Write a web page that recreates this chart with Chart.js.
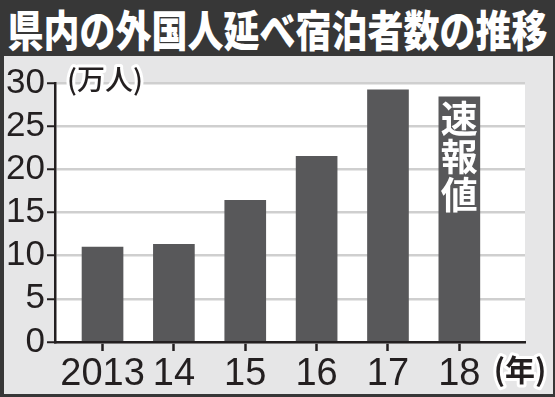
<!DOCTYPE html>
<html>
<head>
<meta charset="utf-8">
<script src="https://cdn.jsdelivr.net/npm/chart.js@4"></script>
<style>
  body { margin: 0; background: #fff; }
  #frame { position: relative; width: 555px; height: 397px; background: #373737; overflow: hidden; }
  #title {
    position: absolute; left: 0; top: 0; width: 555px; height: 56px;
    color: #fff; font-family: "Noto Sans CJK JP", sans-serif; font-weight: 900;
    font-size: 36px; line-height: 56px; text-align: center; white-space: nowrap;
    transform: scaleY(1.2); transform-origin: 50% 50%;
  }
  #panel { position: absolute; left: 4px; top: 56px; width: 549px; height: 338px; background: #e6e6e7; }
</style>
</head>
<body>
<div id="frame">
  <div id="title">県内の外国人延べ宿泊者数の推移</div>
  <div id="panel"><canvas id="chart" width="549" height="338"></canvas></div>
</div>
<script>
// 県内の外国人延べ宿泊者数（万人）
const years = ['2013', '14', '15', '16', '17', '18'];
const guests = [11.0, 11.3, 16.4, 21.5, 29.2, 28.4];
const yTicks = [0, 5, 10, 15, 20, 25, 30];
const unitLabel = '(万人)';
const yearLabel = '(年)';
const flashLabel = ['速', '報', '値']; // 18年は速報値

const ink = '#231f20';
const numFont = '"Liberation Sans Narrow", "Liberation Sans", sans-serif';
const jpFont = '"Noto Sans CJK JP", sans-serif';

// 白い描画エリア
const plotBg = {
  id: 'plotBg',
  beforeDraw(chart) {
    const { ctx, chartArea: a } = chart;
    ctx.save();
    ctx.fillStyle = '#fff';
    ctx.fillRect(a.left, a.top, a.right - a.left, a.bottom - a.top);
    ctx.restore();
  }
};

// 単位と「速報値」の文字
const notes = {
  id: 'notes',
  afterDraw(chart) {
    const { ctx, chartArea: a, scales } = chart;
    ctx.save();
    ctx.lineJoin = 'round';
    ctx.textBaseline = 'middle';

    ctx.font = '500 28px ' + jpFont;
    ctx.textAlign = 'left';
    ctx.strokeStyle = '#fff';
    ctx.lineWidth = 6;
    ctx.strokeText(unitLabel, a.left + 12, a.top - 4);
    ctx.fillStyle = ink;
    ctx.fillText(unitLabel, a.left + 12, a.top - 4);

    ctx.font = 'bold 30px ' + jpFont;
    ctx.textAlign = 'center';
    const yx = a.right - 5;
    ctx.strokeText(yearLabel, yx, a.bottom + 28);
    ctx.fillText(yearLabel, yx, a.bottom + 28);

    const last = guests.length - 1;
    const bx = scales.x.getPixelForValue(last);
    const top = scales.y.getPixelForValue(guests[last]);
    ctx.font = 'bold 37px ' + jpFont;
    ctx.fillStyle = '#fff';
    flashLabel.forEach((ch, i) => {
      ctx.fillText(ch, bx, top + 22 + i * 38);
    });
    ctx.restore();
  }
};

new Chart(document.getElementById('chart'), {
  type: 'bar',
  data: {
    datasets: [{
      data: guests.map((v, i) => ({ x: i, y: v })),
      backgroundColor: '#58585a',
      barThickness: 41,
      borderWidth: 0,
    }]
  },
  plugins: [plotBg, notes],
  options: {
    responsive: false,
    animation: false,
    layout: { padding: { top: 27, right: 28, left: 0, bottom: 0 } },
    plugins: { legend: { display: false }, tooltip: { enabled: false } },
    scales: {
      x: {
        type: 'linear',
        offset: false,
        min: -0.666,
        max: 5.92,
        afterBuildTicks: (scale) => { scale.ticks = years.map((_, i) => ({ value: i })); },
        afterFit: (scale) => { scale.height = 52; },
        ticks: {
          callback: (v) => years[v],
          font: { family: numFont, size: 38 },
          color: ink,
          padding: 1,
          maxRotation: 0,
          autoSkip: false,
        },
        grid: { offset: false, drawOnChartArea: false, tickLength: 9, tickColor: ink, tickWidth: 2.5 },
        border: { color: ink, width: 2.5 },
      },
      y: {
        min: 0,
        max: 30,
        afterBuildTicks: (scale) => { scale.ticks = yTicks.map(v => ({ value: v })); },
        afterFit: (scale) => { scale.width = 51; },
        ticks: {
          font: { family: numFont, size: 35 },
          color: ink,
          padding: 2,
          autoSkip: false,
        },
        grid: { color: '#cfcfcf', lineWidth: 2.5, tickLength: 8, tickColor: ink, tickWidth: 2 },
        border: { color: ink, width: 2.5 },
      }
    }
  }
});
</script>
</body>
</html>
